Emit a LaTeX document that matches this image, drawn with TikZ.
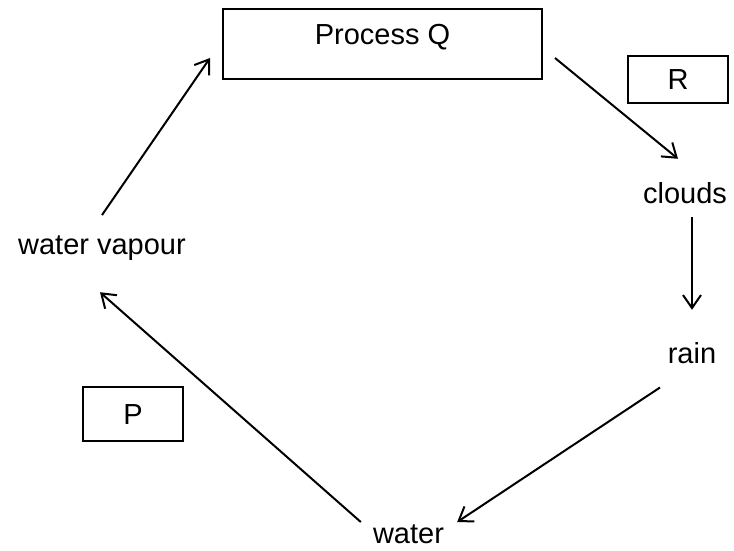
\documentclass[tikz,border=0pt]{standalone}
\usepackage{fontspec}
\setmainfont{Liberation Sans}
\usetikzlibrary{arrows.meta}
\begin{document}
\begin{tikzpicture}[x=1pt,y=-1pt,
  every node/.style={font=\fontsize{29}{34}\selectfont, inner sep=0pt},
  lbl/.style={anchor=base},
  boxed/.style={draw, line width=2pt, text height=21pt, text depth=0pt},
  arr/.style={line width=2pt, -{Straight Barb[length=13pt,width=18pt,line width=2pt]}}]
\useasboundingbox (0,0) rectangle (734,551);
% boxes
\node[boxed, minimum width=319pt, minimum height=70pt, text height=21pt, text depth=19pt] (pq) at (382.5,44) {Process Q};
\node[boxed, minimum width=100pt, minimum height=47pt] (r) at (678,79.5) {R};
\node[boxed, minimum width=100pt, minimum height=54pt] (p) at (133,414) {P};
% labels
\node[lbl] (cl) at (685,203) {clouds};
\node[lbl] (rn) at (692,363) {rain};
\node[lbl] (wt) at (408.5,543) {water};
\node[lbl] (wv) at (102,254) {water vapour};
% connectors
\draw[arr] ([yshift=20pt]wv.north) -- ([xshift=-12pt,yshift=22pt]pq.south west);
\draw[arr] ([xshift=12pt,yshift=22pt]pq.south east) -- ([xshift=-7pt,yshift=23pt]cl.north);
\draw[arr] ([xshift=7pt,yshift=-14pt]cl.south) -- ([yshift=32pt]rn.north);
\draw[arr] ([xshift=-32pt,yshift=-24pt]rn.south) -- ([xshift=13pt,yshift=2pt]wt.north east);
\draw[arr] ([xshift=-12pt,yshift=2pt]wt.north west) -- ([xshift=-2pt,yshift=-32pt]wv.south);
\end{tikzpicture}
\end{document}
